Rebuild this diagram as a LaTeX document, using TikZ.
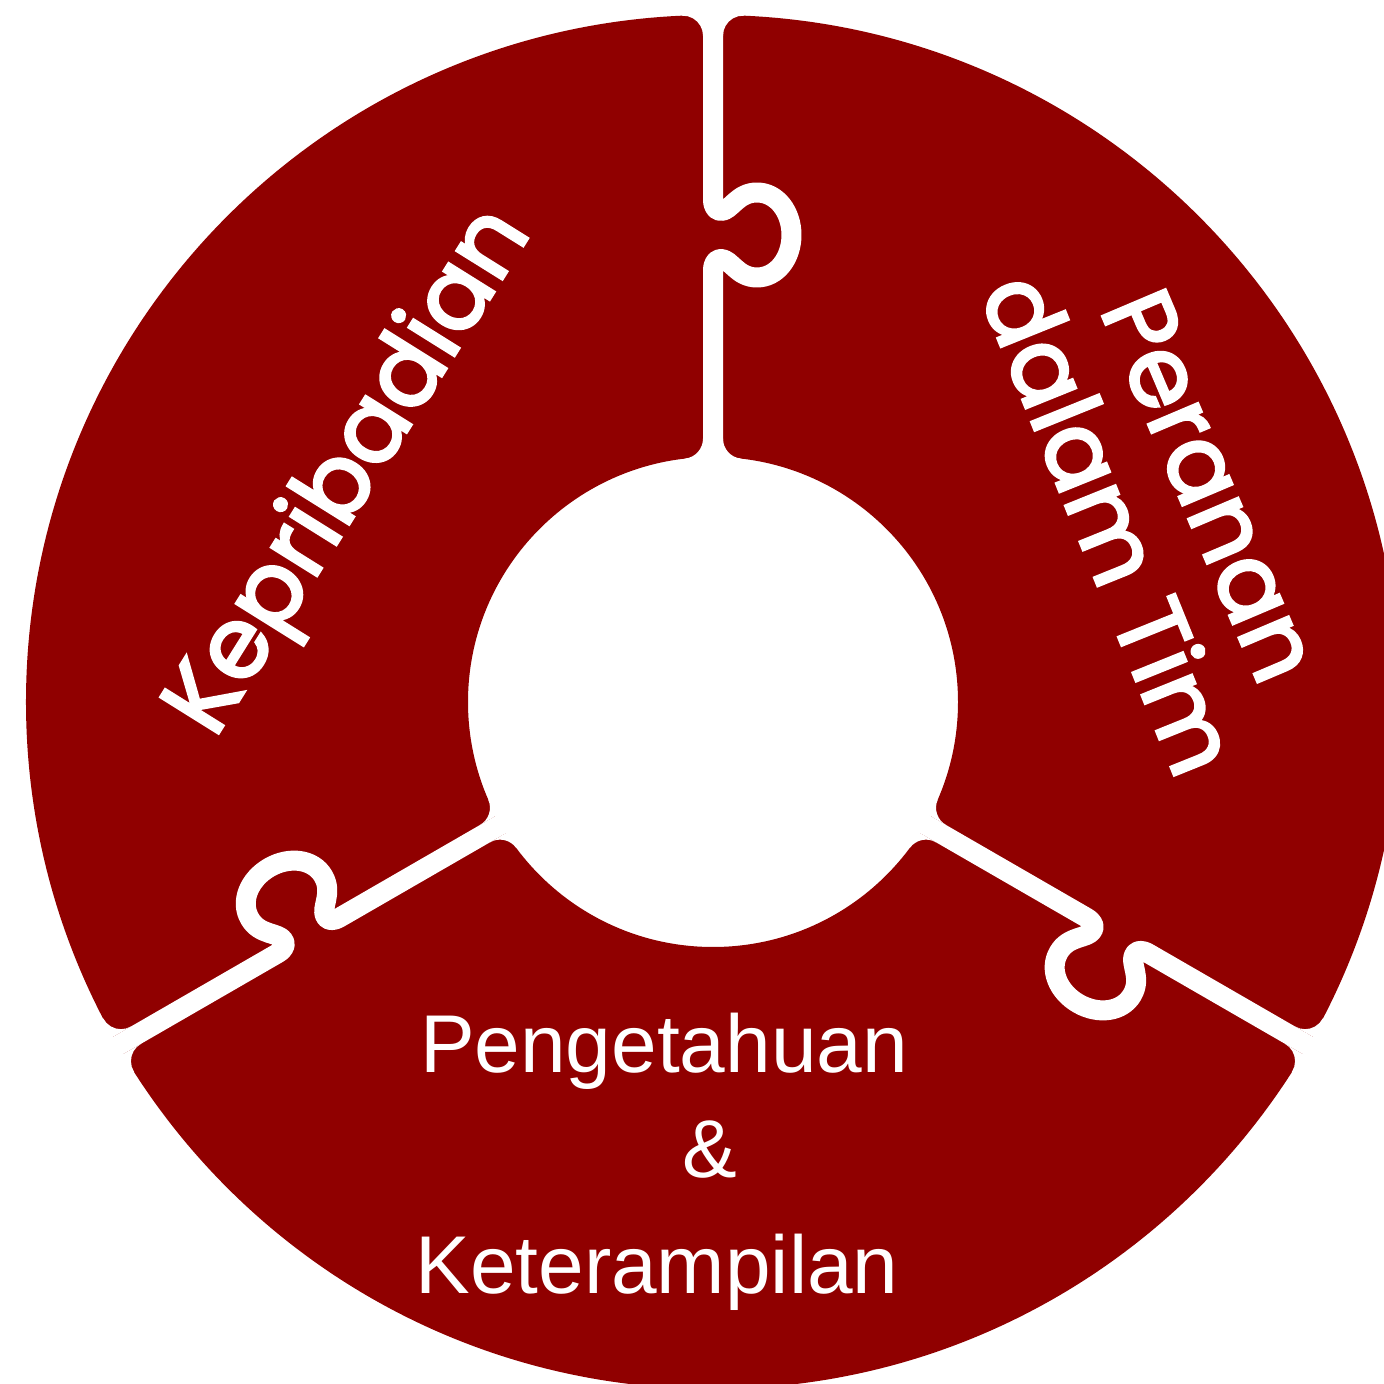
\documentclass[tikz,border=0pt]{standalone}
\usepackage{fontspec}
\setmainfont{Liberation Sans}
\newfontfamily\popfont{Poppins}[FakeBold=3]
\definecolor{piecered}{RGB}{144,0,0}
\tikzset{
  gapline/.style={draw=white, line width=10pt, line cap=butt, line join=round},
  filletpatch/.style={fill=white},
  popstyle/.style={text=white, font=\popfont\fontsize{49}{55}\selectfont, inner sep=0pt, anchor=base},
  pengstyle/.style={text=white, font=\fontsize{41}{49}\selectfont, inner sep=0pt, anchor=base},
}
\newcommand{\puzzlegap}{%
  \draw[gapline] (0,740) -- (0,503)
    .. controls (0,495) and (3,491) .. (8,491)
    .. controls (18,491) and (24,509.5) .. (44,509.5)
    .. controls (64,509.5) and (78.5,490) .. (78.5,467)
    .. controls (78.5,444) and (64,424.5) .. (44,424.5)
    .. controls (24,424.5) and (18,443) .. (8,443)
    .. controls (3,443) and (0,439) .. (0,431) -- (0,200);
  \fill[filletpatch] (10,666.32) arc[start angle=180, end angle=87.42, radius=20] -- (30.9,720) -- (10,720) -- cycle;
  \fill[filletpatch] (-10,666.32) arc[start angle=0, end angle=92.58, radius=20] -- (-30.9,720) -- (-10,720) -- cycle;
  \fill[filletpatch] (10,263.3) arc[start angle=180, end angle=263.5, radius=20] -- (27.74,200) -- (10,200) -- cycle;
  \fill[filletpatch] (-10,263.3) arc[start angle=0, end angle=-83.5, radius=20] -- (-27.74,200) -- (-10,200) -- cycle;
}
\begin{document}
\begin{tikzpicture}[x=0.5pt,y=0.5pt]
\useasboundingbox (-713,-682) rectangle (671,702);
\fill[piecered, even odd rule] (0,0) circle[radius=687] (0,0) circle[radius=245];
\puzzlegap
\begin{scope}[rotate=120]\puzzlegap\end{scope}
\begin{scope}[rotate=-120]\puzzlegap\end{scope}
\node[popstyle, rotate=58] (kep) at (-340,216) {Kepribadian};
\node[popstyle, rotate=-67] (per1) at (467,203) {Peranan};
\node[popstyle, rotate=-68] (per2) at (365,165) {dalam Tim};
\node[pengstyle] (pen1) at (-49,-370) {Pengetahuan};
\node[pengstyle] (pen2) at (-3,-475) {\&};
\node[pengstyle] (pen3) at (-56,-591) {Keterampilan};
\end{tikzpicture}
\end{document}
